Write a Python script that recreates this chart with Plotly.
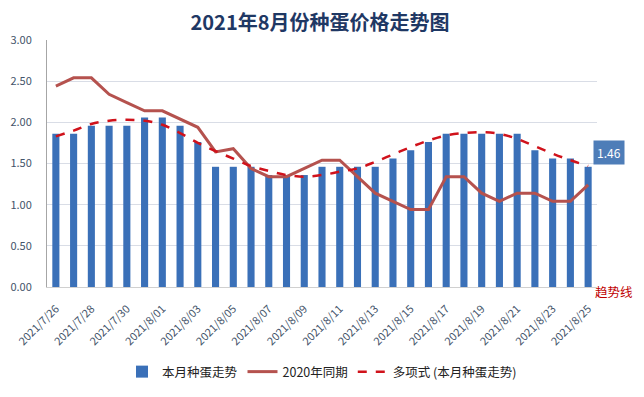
import plotly.graph_objects as go

dates = ["2021/7/26", "2021/7/27", "2021/7/28", "2021/7/29", "2021/7/30", "2021/7/31",
         "2021/8/01", "2021/8/02", "2021/8/03", "2021/8/04", "2021/8/05", "2021/8/06",
         "2021/8/07", "2021/8/08", "2021/8/09", "2021/8/10", "2021/8/11", "2021/8/12",
         "2021/8/13", "2021/8/14", "2021/8/15", "2021/8/16", "2021/8/17", "2021/8/18",
         "2021/8/19", "2021/8/20", "2021/8/21", "2021/8/22", "2021/8/23", "2021/8/24",
         "2021/8/25"]

price_2021 = [1.86, 1.86, 1.96, 1.96, 1.96, 2.06, 2.06, 1.96, 1.76, 1.46, 1.46, 1.46,
              1.36, 1.36, 1.36, 1.46, 1.46, 1.46, 1.46, 1.56, 1.66, 1.76, 1.86, 1.86,
              1.86, 1.86, 1.86, 1.66, 1.56, 1.56, 1.46]

price_2020 = [2.44, 2.54, 2.54, 2.34, 2.24, 2.14, 2.14, 2.04, 1.94, 1.64, 1.68, 1.44,
              1.34, 1.34, 1.44, 1.54, 1.54, 1.34, 1.14, 1.04, 0.94, 0.94, 1.34, 1.34,
              1.14, 1.04, 1.14, 1.14, 1.04, 1.04, 1.24]

trend = [1.83, 1.90, 1.98, 2.02, 2.03, 2.02, 1.97, 1.87, 1.75, 1.65, 1.56, 1.47,
         1.41, 1.36, 1.34, 1.36, 1.40, 1.44, 1.52, 1.61, 1.70, 1.78, 1.84, 1.87,
         1.88, 1.86, 1.80, 1.71, 1.62, 1.54, 1.47]

y_ticks = [0, 0.5, 1.0, 1.5, 2.0, 2.5, 3.0]
y_tick_text = ["0.00", "0.50", "1.00", "1.50", "2.00", "2.50", "3.00"]
x_tick_vals = dates[::2]

title_text = "2021年8月份种蛋价格走势图"
last_label = "1.46"
trend_label = "趋势线"

FONT = "Noto Sans CJK SC, Noto Sans, sans-serif"
# the page body has an 8px margin on every side; keep the figure inside it
OFF = 8
W, H = 644 - 2 * OFF, 397 - 2 * OFF
L, T = 47 - OFF, 40 - OFF
R = W - (597 - OFF)
B = H - (287 - OFF)

fig = go.Figure()
fig.add_trace(go.Bar(
    x=dates, y=price_2021, name="本月种蛋走势",
    marker=dict(color="#3A70B8", line=dict(width=0)),
    width=0.4,
))
fig.add_trace(go.Scatter(
    x=dates, y=price_2020, name="2020年同期", mode="lines",
    line=dict(color="#B5524E", width=3),
))
fig.add_trace(go.Scatter(
    x=dates, y=trend, name="多项式 (本月种蛋走势)", mode="lines",
    line=dict(color="#D0121B", width=2.5, dash="dash", shape="spline", smoothing=1.0),
))

fig.add_annotation(
    x=dates[-1], y=price_2021[-1], xref="x", yref="y",
    text=last_label, showarrow=False, xshift=21, yshift=14,
    bgcolor="#4E7DB8", font=dict(color="white", size=12, family=FONT),
    borderpad=3,
)
fig.add_annotation(
    x=((W - 1) - L) / (W - L - R), y=((H - B) - (291 - OFF)) / (H - B - T),
    xref="paper", yref="paper", text=trend_label, showarrow=False,
    xanchor="right", yanchor="middle",
    font=dict(color="#C00000", size=12.5, family=FONT),
)

fig.update_layout(
    width=W, height=H,
    margin=dict(l=L, r=R, t=T, b=B, autoexpand=False),
    paper_bgcolor="white", plot_bgcolor="white",
    title=dict(text="<b>" + title_text + "</b>", x=(320 - OFF) / W, xanchor="center",
               y=1 - (23 - OFF) / H, yanchor="middle", yref="container",
               font=dict(size=20, color="#1F3864", family=FONT)),
    font=dict(family=FONT),
    showlegend=True,
    legend=dict(orientation="h", x=(322 - OFF) / W, xanchor="center", xref="container",
                y=(H - (372 - OFF)) / H, yanchor="middle", yref="container",
                font=dict(size=12.5, color="#222222", family=FONT),
                traceorder="normal"),
    xaxis=dict(
        type="category", tickmode="array", tickvals=x_tick_vals, ticktext=x_tick_vals,
        tickangle=-45, tickfont=dict(size=11, color="#44546A", family=FONT),
        showgrid=False, showline=True, linecolor="#D0D0D0", linewidth=1,
        ticks="", range=[-0.5, len(dates) - 0.5], automargin=False,
        ticklabelstandoff=10,
    ),
    yaxis=dict(
        range=[0, 3.0], tickvals=y_ticks, ticktext=y_tick_text,
        tickfont=dict(size=11, color="#44546A", family=FONT),
        showgrid=True, gridcolor="#D9DDE6", gridwidth=1,
        showline=True, linecolor="#A6A6A6", linewidth=1, zeroline=False,
        ticks="", ticklabelstandoff=12, automargin=False,
    ),
)

fig.write_html("out.html")
